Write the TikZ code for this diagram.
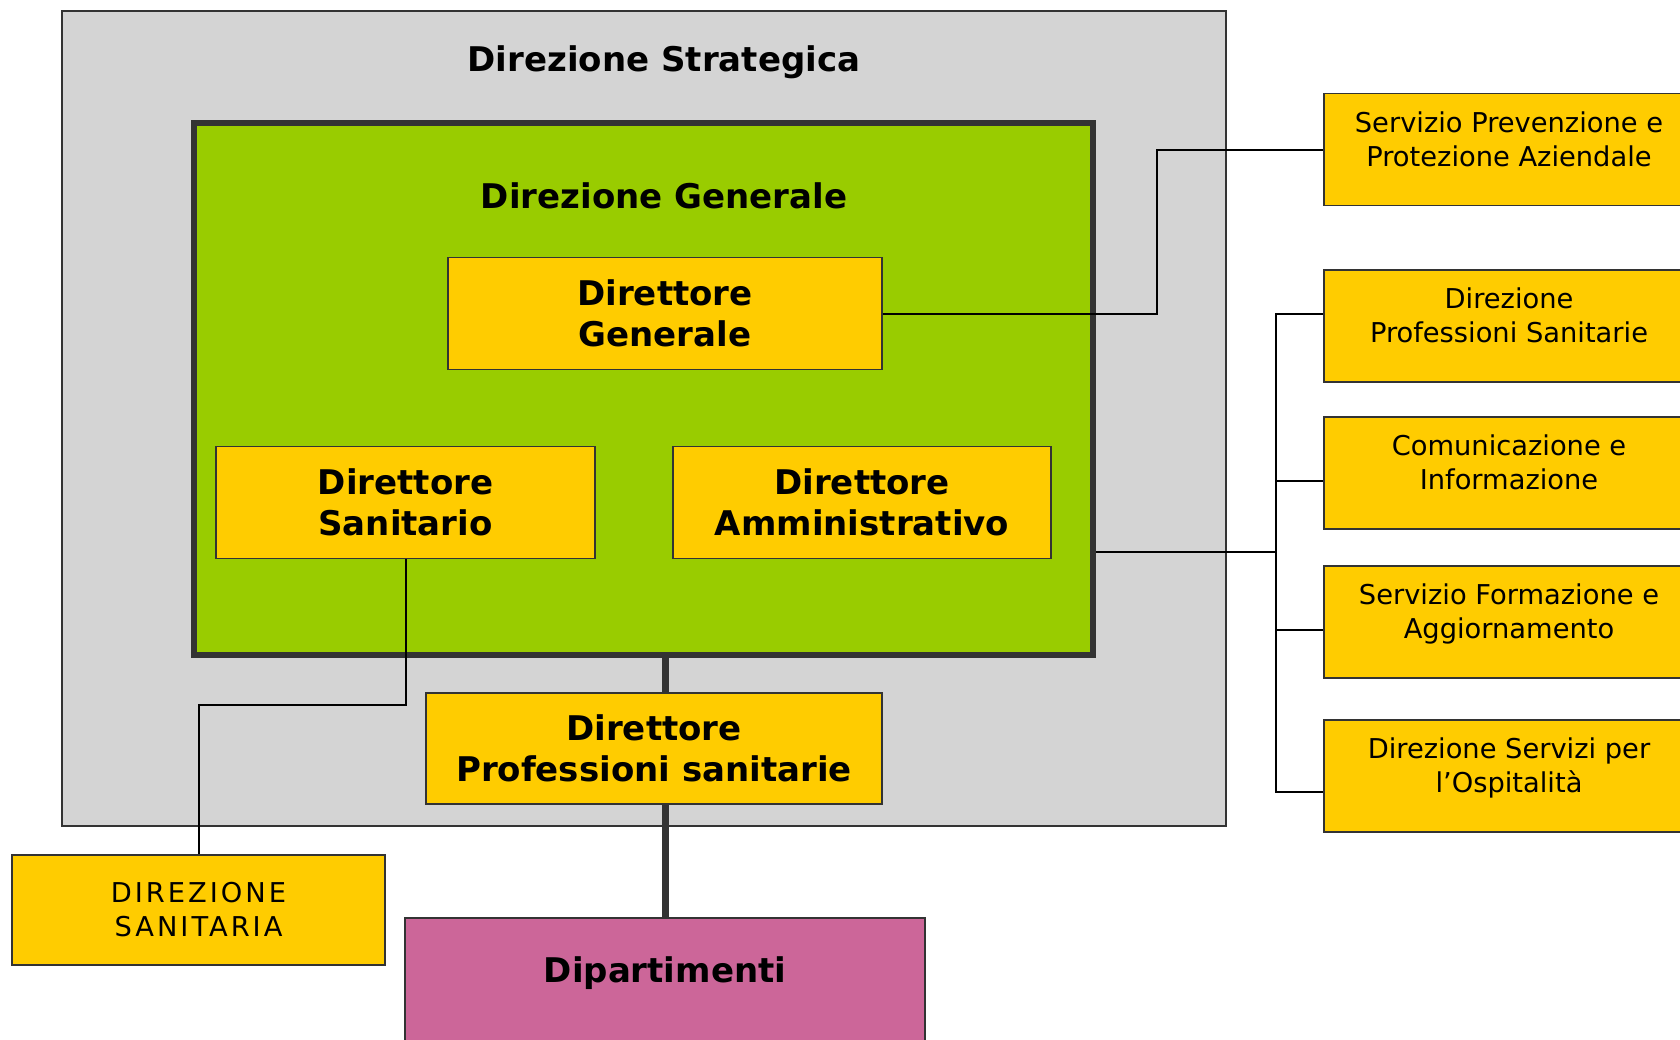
\documentclass[tikz,border=0pt]{standalone}
\usepackage{fontspec}
\setmainfont{DejaVu Sans}
\usepackage{tikz}
\usetikzlibrary{positioning,calc}

\definecolor{stratgrey}{HTML}{D4D4D4}
\definecolor{gengreen}{HTML}{99CC00}
\definecolor{boxyellow}{HTML}{FFCC00}
\definecolor{dippink}{HTML}{CC6699}
\definecolor{edgegrey}{HTML}{333333}

% extra empty line below the text, lifts it a little
\newcommand{\liftup}{\\[-13pt]\mbox{}}

\tikzset{
  ybox/.style={draw=edgegrey, line width=1.5pt, fill=boxyellow, align=center,
    inner sep=0pt, minimum height=112pt},
  boldfont/.style={font=\fontsize{34}{41}\selectfont\bfseries},
  titlebox/.style={ybox, boldfont},
  sidebox/.style={ybox, font=\fontsize{27.3}{34}\selectfont, minimum width=370pt},
  wire/.style={draw=black, line width=2pt},
  trunk/.style={draw=edgegrey, line width=7pt}
}

\begin{document}
\begin{tikzpicture}[x=1pt,y=-1pt]
    \useasboundingbox (0,0) rectangle (1680,1039);

    % Direzione Strategica
    \node[draw=edgegrey, line width=2pt, fill=stratgrey, minimum width=1164pt,
      minimum height=815pt, inner sep=0pt] (strat) at (644,418.5) {};
    \node[boldfont] (strattitle) at (664,62) {Direzione Strategica};

    % Direzione Generale
    \node[draw=edgegrey, line width=6pt, fill=gengreen, minimum width=899pt,
      minimum height=532pt, inner sep=0pt] (gen) at (643.5,389) {};
    \node[boldfont] (gentitle) at (664,196) {Direzione Generale};

    % direttori
    \node[titlebox, minimum width=434pt] (dg) at (665,313.5) {Direttore\\Generale};
    \node[titlebox, minimum width=379pt] (ds) at (405.5,502.5) {Direttore\\Sanitario};
    \node[titlebox, minimum width=378pt] (da) at (862,502.5) {Direttore\\Amministrativo};
    \node[titlebox, minimum width=456pt, minimum height=111pt] (dps) at (654,748.5) {Direttore\\Professioni sanitarie};

    % fuori dalla direzione strategica
    \node[ybox, minimum width=373pt, minimum height=110pt,
      font=\fontsize{27.3}{34}\selectfont\addfontfeatures{LetterSpace=11}] (dsan) at (198.5,910) {DIREZIONE\\SANITARIA};
    \node[draw=edgegrey, line width=1.5pt, fill=dippink, minimum width=520pt,
      minimum height=127pt, text depth=23pt, boldfont] (dip) at (665,981.5) {Dipartimenti};

    % staff
    \node[sidebox] (spp) at (1509,149.5) {Servizio Prevenzione e\\Protezione Aziendale\liftup};
    \node[sidebox] (dprof) at (1509,326) {Direzione\\Professioni Sanitarie\liftup};
    \node[sidebox] (com) at (1509,473) {Comunicazione e\\Informazione\liftup};
    \node[sidebox] (sfa) at (1509,622) {Servizio Formazione e\\Aggiornamento\liftup};
    \node[sidebox] (dso) at (1509,776) {Direzione Servizi per\\l’Ospitalità\liftup};

    % collegamenti
    \coordinate (kneeA) at (1157,313.5);
    \coordinate (bus) at (1276,552);
    \draw[wire] (dg.east) -- (kneeA) |- (spp.west);
    \draw[wire] (gen.east |- bus) -- (bus);
    \draw[wire] ([yshift=12pt]dprof.west) -| (bus) |- ([yshift=-16pt]dso.west);
    \foreach \n in {com,sfa}
      \draw[wire] ([yshift=-8pt]\n.west) -- ++(-48,0);
    \draw[wire] (ds.south) -- ++(0,146) -| (dsan.north);

    \draw[trunk] (gen.south -| dip.north) -- (dps.north -| dip.north);
    \draw[trunk] (dps.south -| dip.north) -- (dip.north);
\end{tikzpicture}
\end{document}
